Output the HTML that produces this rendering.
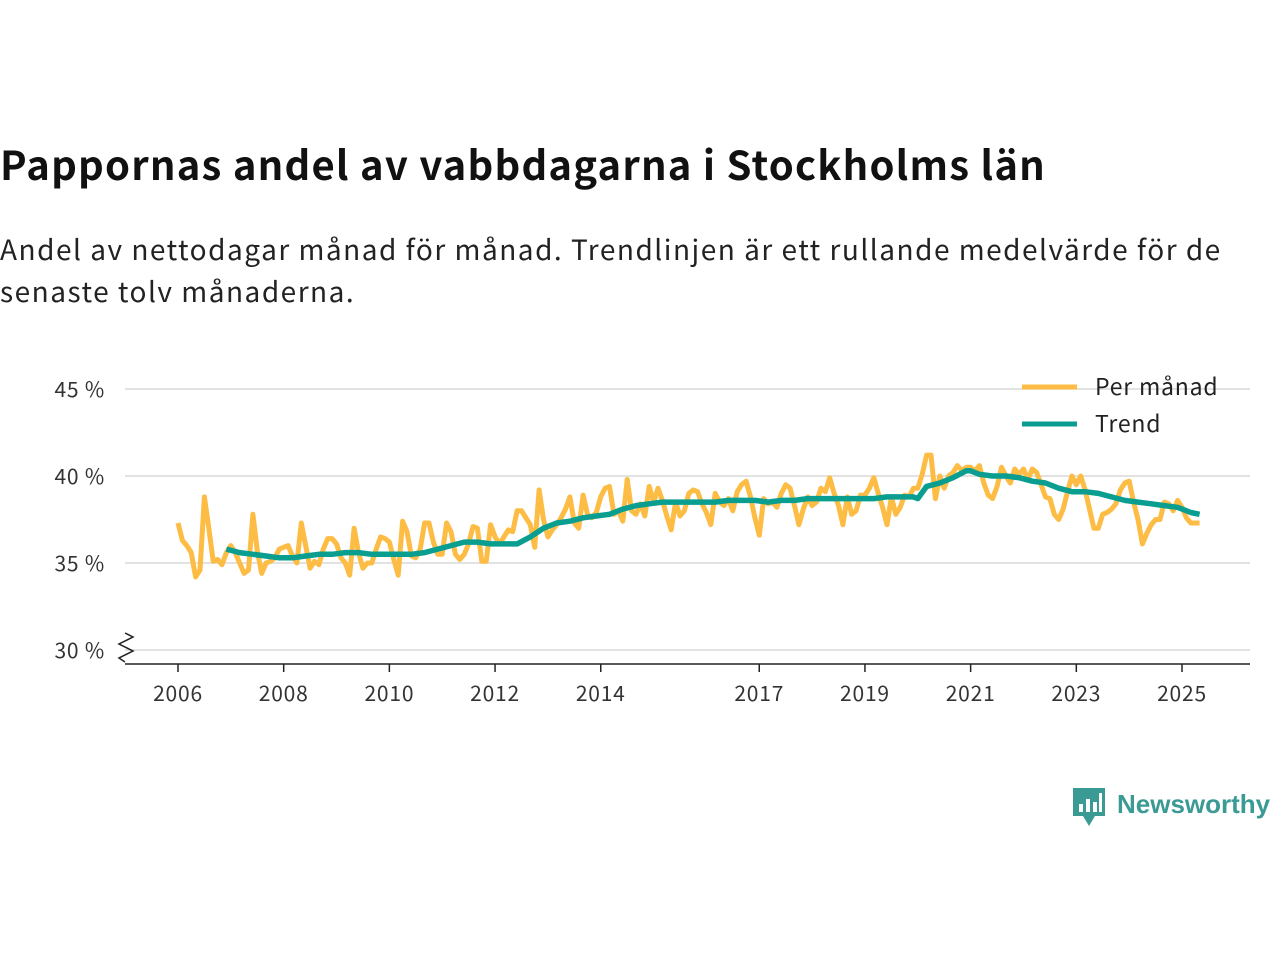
<!DOCTYPE html>
<html><head><meta charset="utf-8">
<style>
body{margin:0;background:#fff;width:1280px;height:960px;overflow:hidden;font-family:"Noto Sans CJK SC","Liberation Sans",sans-serif;color:#1a1a1a}
#title{position:absolute;left:0;top:134px;font-size:40px;letter-spacing:1.2px;font-weight:700;margin:0;white-space:nowrap;color:#111}
#sub{position:absolute;left:0;top:228px;font-size:28px;letter-spacing:1.5px;line-height:42px;margin:0;width:1250px;color:#222}
svg{position:absolute;left:0;top:0}
svg text{letter-spacing:0.8px}
svg text.logo{letter-spacing:0}
</style></head><body>
<h1 id="title">Pappornas andel av vabbdagarna i Stockholms län</h1>
<p id="sub">Andel av nettodagar månad för månad. Trendlinjen är ett rullande medelvärde för de senaste tolv månaderna.</p>
<svg id="chart" width="1280" height="960"></svg>
<script>
const startYear = 2006;
const monthly = [
37.3,36.3,36.0,35.6,34.2,34.6,38.8,37.0,35.1,35.2,34.9,35.6,
36.0,35.6,35.0,34.4,34.6,37.8,35.7,34.4,35.0,35.1,35.3,35.8,
35.9,36.0,35.4,35.0,37.3,36.0,34.7,35.1,34.9,35.8,36.4,36.4,
36.1,35.3,35.0,34.3,37.0,35.6,34.7,35.0,35.0,35.8,36.5,36.4,
36.2,35.2,34.3,37.4,36.8,35.4,35.3,35.8,37.3,37.3,36.2,35.5,
35.5,37.3,36.8,35.5,35.2,35.5,36.1,37.1,37.0,35.1,35.1,37.2,
36.5,36.1,36.5,36.9,36.8,38.0,38.0,37.6,37.2,35.9,39.2,37.5,
36.5,36.9,37.2,37.6,38.1,38.8,37.3,37.0,38.9,37.8,37.6,37.9,
38.8,39.3,39.4,37.8,38.0,37.4,39.8,38.0,37.8,38.4,37.7,39.4,
38.5,39.3,38.6,37.7,36.9,38.5,37.7,38.0,39.0,39.2,39.1,38.4,
37.9,37.2,39.0,38.5,38.3,38.7,38.0,39.1,39.5,39.7,38.8,37.6,
36.6,38.7,38.4,38.5,38.2,39.0,39.5,39.3,38.3,37.2,38.1,38.8,
38.3,38.5,39.3,39.1,39.9,39.0,38.3,37.2,38.8,37.8,38.0,38.9,
38.9,39.3,39.9,39.0,38.2,37.2,38.8,37.8,38.2,38.9,38.8,39.3,
39.3,40.1,41.2,41.2,38.7,40.0,39.3,40.0,40.2,40.6,40.3,40.5,
40.5,40.3,40.6,39.6,38.9,38.7,39.4,40.5,40.0,39.6,40.4,40.1,
40.4,39.8,40.4,40.2,39.5,38.8,38.7,37.8,37.5,38.1,39.1,40.0,
39.5,40.0,39.2,38.1,37.0,37.0,37.8,37.9,38.1,38.4,39.2,39.6,
39.7,38.5,37.5,36.1,36.7,37.2,37.5,37.5,38.5,38.4,38.0,38.6,
38.2,37.6,37.3,37.3,37.3];
const trendMonths = [11,14,17,20,23,26,29,32,35,38,41,44,47,50,53,56,59,62,65,68,71,74,77,80,83,86,89,92,95,98,101,104,107,110,113,116,119,122,125,128,131,134,137,140,143,146,149,152,155,158,161,164,167,168,170,173,176,179,180,182,185,188,191,194,197,200,203,206,209,212,215,218,221,224,227,230,232];
const trendValues = [35.8,35.6,35.5,35.4,35.3,35.3,35.4,35.5,35.5,35.6,35.6,35.5,35.5,35.5,35.5,35.6,35.8,36.0,36.2,36.2,36.1,36.1,36.1,36.5,37.0,37.3,37.4,37.6,37.7,37.8,38.1,38.3,38.4,38.5,38.5,38.5,38.5,38.5,38.6,38.6,38.6,38.5,38.6,38.6,38.7,38.7,38.7,38.7,38.7,38.7,38.8,38.8,38.8,38.7,39.4,39.6,39.9,40.3,40.3,40.1,40.0,40.0,39.9,39.7,39.6,39.3,39.1,39.1,39.0,38.8,38.6,38.5,38.4,38.3,38.2,37.9,37.8];
const yTicks = [30,35,40,45];
const yTickLabels = ["30 %","35 %","40 %","45 %"];
const xTickYears = [2006,2008,2010,2012,2014,2017,2019,2021,2023,2025];

const NS="http://www.w3.org/2000/svg";
const svg=document.getElementById('chart');
const X0=178, PXM=(1182-178)/(19*12);
const xm=m=>X0+m*PXM;
const y=v=>650-(v-30)*17.4;
function mk(t,a){const e=document.createElementNS(NS,t);for(const k in a)e.setAttribute(k,a[k]);svg.appendChild(e);return e;}
yTicks.forEach((t,i)=>{
  const g=mk('line',{x1:125,x2:1250,y1:y(t),y2:y(t),stroke:'#d9d9d9','stroke-width':1.5});
  
  
  const tx=mk('text',{x:105,y:y(t)+8,'text-anchor':'end','font-size':21,fill:'#333'});
  tx.textContent=yTickLabels[i];
  
  
});
const ax=mk('line',{x1:125,x2:1250,y1:664,y2:664,stroke:'#222','stroke-width':1.5});


const zz=mk('polyline',{points:'125,633 133,637 119,644 133,651 119,658 125,662',fill:'none',stroke:'#222','stroke-width':1.5});


xTickYears.forEach(yr=>{
  const x=xm((yr-startYear)*12);
  const t=mk('line',{x1:x,x2:x,y1:664,y2:672,stroke:'#222','stroke-width':1.5});
  
  
  const l=mk('text',{x:x,y:701,'text-anchor':'middle','font-size':21,fill:'#333'});
  l.textContent=yr;
  
  
});
const mp=monthly.map((v,i)=>xm(i).toFixed(1)+','+y(v).toFixed(1)).join(' ');
const ml=mk('polyline',{points:mp,fill:'none',stroke:'#fdbc44','stroke-width':5,'stroke-linejoin':'round'});


const tp=trendValues.map((v,i)=>xm(trendMonths[i]).toFixed(1)+','+y(v).toFixed(1)).join(' ');
const tl=mk('polyline',{points:tp,fill:'none',stroke:'#0a9e91','stroke-width':5.5,'stroke-linejoin':'round'});


[['Per månad','#fdbc44',387],['Trend','#0a9e91',424]].forEach(([n,c,yy])=>{
  const l=mk('line',{x1:1022,x2:1077,y1:yy,y2:yy,stroke:c,'stroke-width':5});
  
  
  const t=mk('text',{x:1095,y:yy+8,'font-size':23,fill:'#222'});
  t.textContent=n;
  
  
});
const lg=mk('g',{});


lg.innerHTML='<path d="M1073,788 h32 v28 h-10 l-6,10 l-6,-10 h-10 z" fill="#3a9a94"/><rect x="1079" y="804" width="4" height="8" fill="#fff"/><rect x="1086" y="799" width="4" height="13" fill="#fff"/><rect x="1093" y="802" width="4" height="10" fill="#fff"/><rect x="1099" y="793" width="3" height="19" fill="#fff"/><text class="logo" x="1117" y="813" font-size="26" font-family="Liberation Sans,sans-serif" font-weight="700" fill="#3a9a94">Newsworthy</text>';
</script>
</body></html>
